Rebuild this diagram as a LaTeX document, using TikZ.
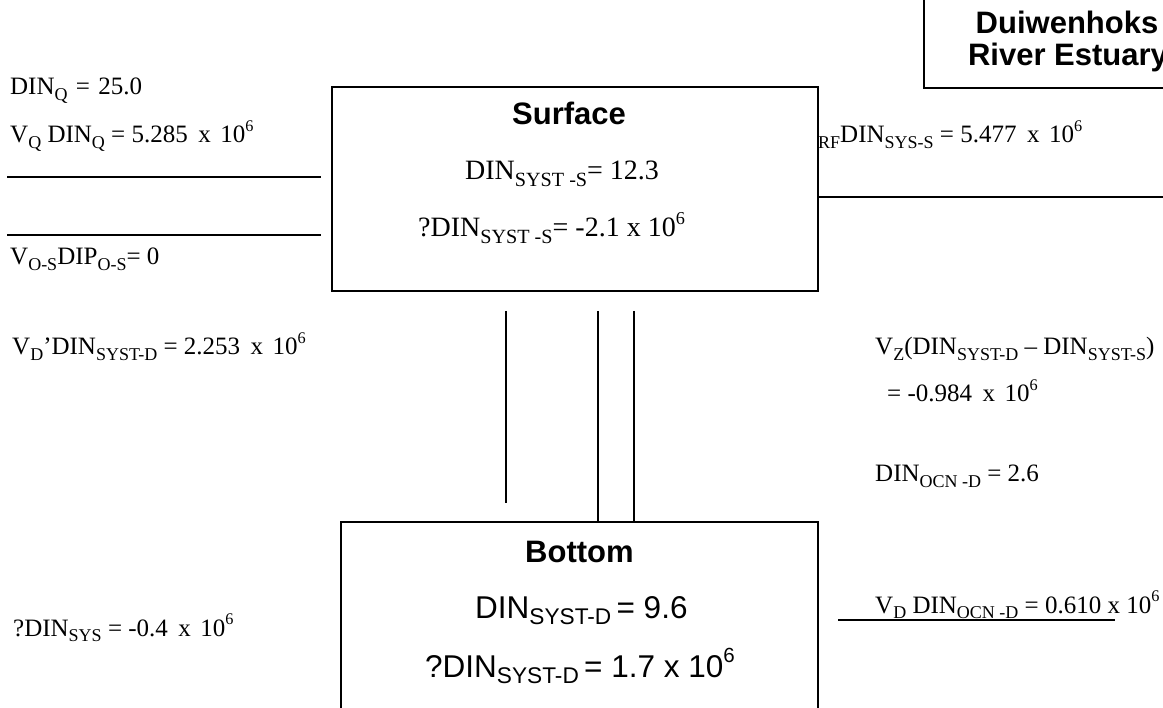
\documentclass[tikz,border=0pt]{standalone}
\usepackage{fontspec}
\setmainfont{Liberation Serif}
\newfontfamily\arialfont{Liberation Sans}
\makeatletter
% lowered / raised small text for indices and powers
\newcommand\lowtxt[1]{\raisebox{-.22em}{\fontsize{\fpeval{0.72*\f@size}}{0}\selectfont #1}}
\newcommand\hightxt[1]{\raisebox{.45em}{\fontsize{\fpeval{0.65*\f@size}}{0}\selectfont #1}}
\makeatother
% multiplication sign with the wide spacing of the flux labels
\newcommand\tms{\hspace{.42em}x\hspace{.38em}}
\begin{document}
\begin{tikzpicture}[x=1pt,y=-1pt,
  lab/.style={inner sep=0pt, anchor=base west, font=\fontsize{25}{30}\selectfont},
  boxtxt/.style={inner sep=0pt, anchor=base west, font=\fontsize{28}{33}\selectfont},
  sanstxt/.style={inner sep=0pt, anchor=base west, font=\arialfont\fontsize{31.5}{36}\selectfont},
  ttl/.style={inner sep=0pt, anchor=base, font=\arialfont\bfseries\fontsize{31}{36}\selectfont},
  box/.style={draw, line width=1.6pt, inner sep=0pt},
  flow/.style={line width=1.6pt}]
\clip (0,0) rectangle (1163,708);
\fill[white] (0,0) rectangle (1163,708);

% compartments
\node[box, minimum width=486pt, minimum height=204pt] (surface) at (575,189) {};
\node[box, minimum width=477pt, minimum height=230pt] (bottom) at (579.5,637) {};
\node[box, minimum width=290pt, minimum height=130pt] (estuary) at (1069,23) {};

% estuary title
\node[ttl] (t1) at (1067,34) {Duiwenhoks};
\node[ttl] (t2) at (1068,66) {River Estuary};

% surface compartment text
\node[ttl, anchor=base west] (stitle) at (512,125) {Surface};
\node[boxtxt] (s1) at (465,180) {DIN\lowtxt{SYST -S}= 12.3};
\node[boxtxt] (s2) at (418,237) {?DIN\lowtxt{SYST -S}= -2.1 x 10\hightxt{6}};

% bottom compartment text
\node[ttl, anchor=base west] (btitle) at (525,562) {Bottom};
\node[sanstxt] (b1) at (475,618) {DIN\lowtxt{SYST-D}\,= 9.6};
\node[sanstxt] (b2) at (425,677) {?DIN\lowtxt{SYST-D}\,= 1.7 x 10\hightxt{6}};

% left-hand fluxes
\node[lab] (l1) at (10,95) {DIN\lowtxt{Q}\,\,=\,\,25.0};
\node[lab] (l2) at (10,143) {V\lowtxt{Q} DIN\lowtxt{Q} = 5.285\tms 10\hightxt{6}};
\node[lab] (l3) at (10,265) {V\lowtxt{O-S}DIP\lowtxt{O-S}= 0};
\node[lab] (l4) at (12,355) {V\lowtxt{D}’DIN\lowtxt{SYST-D} = 2.253\tms 10\hightxt{6}};
\node[lab] (l5) at (13,636) {?DIN\lowtxt{SYS} = -0.4\tms 10\hightxt{6}};

% right-hand fluxes
\node[lab] (r1) at (818,143) {\lowtxt{RF}DIN\lowtxt{SYS-S} = 5.477\tms 10\hightxt{6}};
\node[lab] (r2) at (875,355) {V\lowtxt{Z}(DIN\lowtxt{SYST-D} – DIN\lowtxt{SYST-S})};
\node[lab] (r3) at (887,402) {= -0.984\tms 10\hightxt{6}};
\node[lab] (r4) at (875,482) {DIN\lowtxt{OCN -D} = 2.6};
\node[lab] (r5) at (875,613) {V\lowtxt{D} DIN\lowtxt{OCN -D} = 0.610 x 10\hightxt{6}};

% flow lines
\coordinate (qa) at (7,177);   \coordinate (qb) at (321,177);
\coordinate (oa) at (7,235);   \coordinate (ob) at (321,235);
\coordinate (ra) at (1163,197);
\coordinate (da) at (838,620); \coordinate (db) at (1115,620);
\coordinate (v1a) at (506,311); \coordinate (v1b) at (506,503);
\coordinate (v2a) at (598,311);
\coordinate (v3a) at (634,311);

\draw[flow] (qa) -- (qb);
\draw[flow] (oa) -- (ob);
\draw[flow] (surface.east |- ra) -- (ra);
\draw[flow] (da) -- (db);
\draw[flow] (v1a) -- (v1b);
\draw[flow] (v2a) -- (v2a |- bottom.north);
\draw[flow] (v3a) -- (v3a |- bottom.north);
\end{tikzpicture}
\end{document}
